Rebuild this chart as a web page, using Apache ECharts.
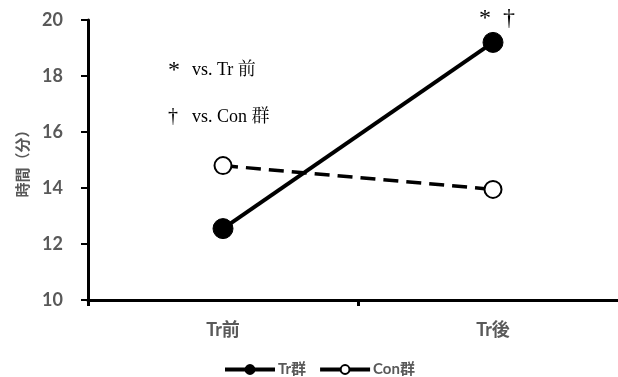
<!DOCTYPE html>
<html>
<head>
<meta charset="utf-8">
<script src="https://cdn.jsdelivr.net/npm/echarts@6/dist/echarts.min.js"></script>
<style>
  html, body { margin: 0; padding: 0; background: #ffffff; }
  #chart { width: 618px; height: 377px; }
</style>
</head>
<body>
<div id="chart"></div>
<script>
// Time (minutes) before and after training, Tr group vs Con group
const categories = ['Tr前', 'Tr後'];
const trValues = [12.55, 19.2];
const conValues = [14.8, 13.95];
const yTicks = { min: 10, max: 20, interval: 2 };
const sigMark = '*  †';

const gray = '#595959';
const labelFont = 'Lato, "Noto Sans CJK JP", sans-serif';
const serifFont = '"Liberation Serif", "Noto Serif CJK JP", "Noto Sans CJK JP", serif';

const chart = echarts.init(document.getElementById('chart'), null, { renderer: 'canvas' });

chart.setOption({
  animation: false,
  grid: { left: 88, width: 540, top: 20, bottom: 77, containLabel: false, outerBoundsMode: 'none' },
  xAxis: {
    type: 'category',
    data: categories,
    boundaryGap: true,
    axisLine: { lineStyle: { color: '#000', width: 3 } },
    axisTick: { show: true, length: 6, lineStyle: { color: '#000', width: 3 } },
    axisLabel: { color: gray, fontFamily: labelFont, fontWeight: 'bold', fontSize: 18, margin: 21 },
    splitLine: { show: false }
  },
  yAxis: {
    type: 'value',
    min: yTicks.min,
    max: yTicks.max,
    interval: yTicks.interval,
    name: '時間（分）',
    nameLocation: 'middle',
    nameGap: 58,
    nameRotate: 90,
    nameTextStyle: { color: gray, fontFamily: '"Noto Sans CJK JP", sans-serif', fontWeight: 'bold', fontSize: 15 },
    axisLine: { show: true, lineStyle: { color: '#000', width: 3 } },
    axisTick: { show: true, length: 7, lineStyle: { color: '#000', width: 2 } },
    axisLabel: { color: gray, fontFamily: labelFont, fontWeight: 'bold', fontSize: 18, margin: 25 },
    splitLine: { show: false }
  },
  legend: {
    top: 357,
    left: 218,
    itemWidth: 50,
    itemHeight: 11,
    itemGap: 12,
    textStyle: { color: gray, fontFamily: labelFont, fontWeight: 'bold', fontSize: 15, padding: [0, 0, 0, -2] },
    data: [
      { name: 'Tr群', lineStyle: { width: 4 } },
      { name: 'Con群', lineStyle: { type: 'solid', width: 4 } }
    ]
  },
  series: [
    {
      name: 'Tr群',
      type: 'line',
      data: trValues.map((v, i) => i === 1 ? {
        value: v,
        label: {
          show: true,
          position: 'top',
          distance: 1,
          offset: [4, 0],
          formatter: sigMark,
          color: '#000',
          fontFamily: serifFont,
          fontSize: 24
        }
      } : v),
      symbol: 'circle',
      symbolSize: 20,
      itemStyle: { color: '#000', borderColor: '#000', borderWidth: 1 },
      lineStyle: { color: '#000', width: 4 },
      z: 3
    },
    {
      name: 'Con群',
      type: 'line',
      data: conValues,
      symbol: 'circle',
      symbolSize: 17,
      itemStyle: { color: '#fff', borderColor: '#000', borderWidth: 2 },
      lineStyle: { color: '#000', width: 3.5, type: [15, 8] },
      z: 2
    }
  ],
  graphic: [
    {
      type: 'text',
      left: 168,
      top: 59,
      style: { text: '*', fill: '#000', font: '24px ' + serifFont }
    },
    {
      type: 'text',
      left: 192,
      top: 61,
      style: { text: 'vs. Tr 前', fill: '#000', font: '18px ' + serifFont }
    },
    {
      type: 'text',
      left: 168,
      top: 107,
      style: { text: '†', fill: '#000', font: '20px ' + serifFont }
    },
    {
      type: 'text',
      left: 192,
      top: 108,
      style: { text: 'vs. Con 群', fill: '#000', font: '18px ' + serifFont }
    }
  ]
});
</script>
</body>
</html>
